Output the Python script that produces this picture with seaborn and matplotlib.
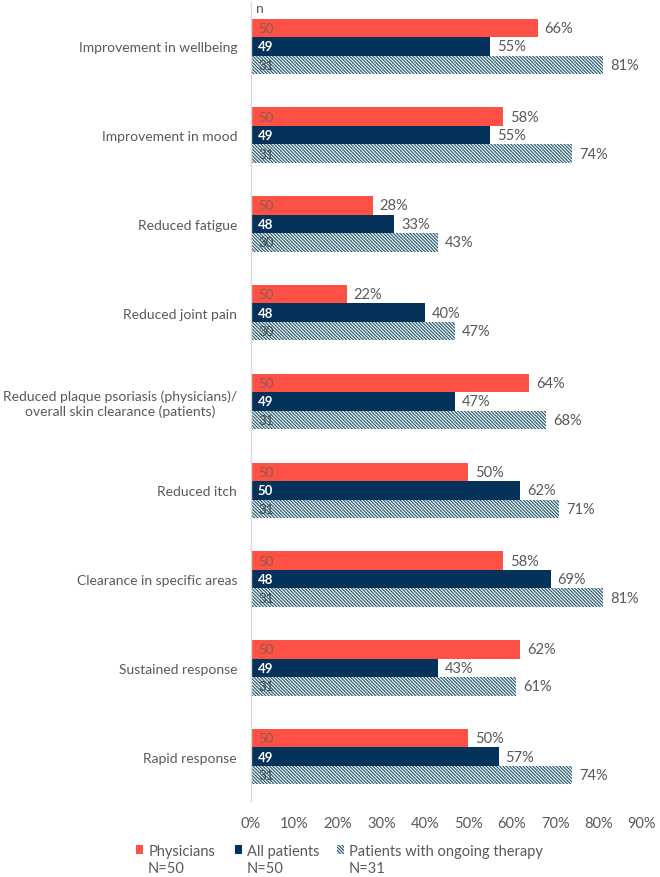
import matplotlib
matplotlib.use("Agg")
import matplotlib.pyplot as plt
import seaborn as sns
import pandas as pd
from matplotlib.patches import Patch

categories = [
    "Improvement in wellbeing",
    "Improvement in mood",
    "Reduced fatigue",
    "Reduced joint pain",
    "Reduced plaque psoriasis (physicians)/\noverall skin clearance (patients)",
    "Reduced itch",
    "Clearance in specific areas",
    "Sustained response",
    "Rapid response",
]
groups = ["Physicians", "All patients", "Patients with ongoing therapy"]
group_n = ["N=50", "N=50", "N=31"]

physicians = [66, 58, 28, 22, 64, 50, 58, 62, 50]
all_patients = [55, 55, 33, 40, 47, 62, 69, 43, 57]
ongoing = [81, 74, 43, 47, 68, 71, 81, 61, 74]

n_physicians = [50, 50, 50, 50, 50, 50, 50, 50, 50]
n_all = [49, 49, 48, 48, 49, 50, 48, 49, 49]
n_ongoing = [31, 31, 30, 30, 31, 31, 31, 31, 31]

xticks = [0, 10, 20, 30, 40, 50, 60, 70, 80, 90]

RED = "#FE5146"
NAVY = "#05325A"
HATCH = "#2C5F73"
GRAY = "#595959"
HP = "\\" * 10

sns.set_theme(style="white")
plt.rcParams["font.family"] = ["Lato", "DejaVu Sans"]
plt.rcParams["hatch.color"] = HATCH
plt.rcParams["hatch.linewidth"] = 0.9

rows = []
for vals, ns, g in [(physicians, n_physicians, groups[0]),
                    (all_patients, n_all, groups[1]),
                    (ongoing, n_ongoing, groups[2])]:
    for c, v, n in zip(categories, vals, ns):
        rows.append({"category": c, "group": g, "value": v, "n": n})
df = pd.DataFrame(rows)

fig = plt.figure(figsize=(6.6, 8.78), dpi=100)
ax = fig.add_axes([251 / 660, 76 / 878, (642 - 251) / 660, 799 / 878])

sns.barplot(data=df, y="category", x="value", hue="group", order=categories,
            hue_order=groups, orient="h", width=0.625,
            palette=[RED, NAVY, "white"], linewidth=0, saturation=1,
            errorbar=None, legend=False, ax=ax)

nlists = [n_physicians, n_all, n_ongoing]
ncolors = ["#8a5a55", "white", "#3a4a50"]
for ci, cont in enumerate(ax.containers):
    for bar, nval in zip(cont, nlists[ci]):
        if ci == 2:
            bar.set_hatch(HP)
            bar.set_edgecolor(HATCH)
            bar.set_linewidth(0)
        yc = bar.get_y() + bar.get_height() / 2
        ax.text(1.6, yc, str(nval), va="center", ha="left", fontsize=9.5,
                color=ncolors[ci], fontweight="bold" if ci == 1 else "normal")
    ax.bar_label(cont, labels=[f"{int(b.get_width())}%" for b in cont],
                 padding=5, fontsize=10.5, color=GRAY)

ax.set_xlim(0, 90)
ax.set_ylim(8.5, -0.5)
ax.set_xticks(xticks)
ax.set_xticklabels([f"{t}%" for t in xticks], fontsize=10.5, color=GRAY)
ax.set_xlabel("")
ax.set_ylabel("")
for lab in ax.get_yticklabels():
    lab.set_multialignment("center")
    lab.set_color(GRAY)
    lab.set_fontsize(10)
ax.tick_params(axis="y", length=0, pad=10)
ax.tick_params(axis="x", length=0, pad=11)
for s in ["top", "right", "bottom"]:
    ax.spines[s].set_visible(False)
ax.spines["left"].set_color("#D9D9D9")
ax.spines["left"].set_linewidth(1)

fig.text(256 / 660, 1 - 9 / 878, "n", fontsize=10, color=GRAY,
         ha="left", va="center")

handles = [Patch(facecolor=RED, edgecolor=RED, lw=0),
           Patch(facecolor=NAVY, edgecolor=NAVY, lw=0),
           Patch(facecolor="white", edgecolor=HATCH, hatch=HP, lw=0)]
for h, lab, xpx, ntxt in zip(handles, groups, [136, 235, 337], group_n):
    leg = fig.legend([h], [lab], loc="center left",
                     bbox_to_anchor=(xpx / 660, 1 - 852 / 878), frameon=False,
                     borderpad=0, borderaxespad=0,
                     handlelength=0.5, handleheight=0.6, handletextpad=0.35,
                     prop={"family": ["Lato"], "size": 10.5})
    for t in leg.get_texts():
        t.set_color(GRAY)
    fig.text((xpx + 12) / 660, 1 - 869 / 878, ntxt, ha="left", va="center",
             fontsize=10.5, color=GRAY)

fig.savefig("out.png", dpi=100, facecolor="white")
